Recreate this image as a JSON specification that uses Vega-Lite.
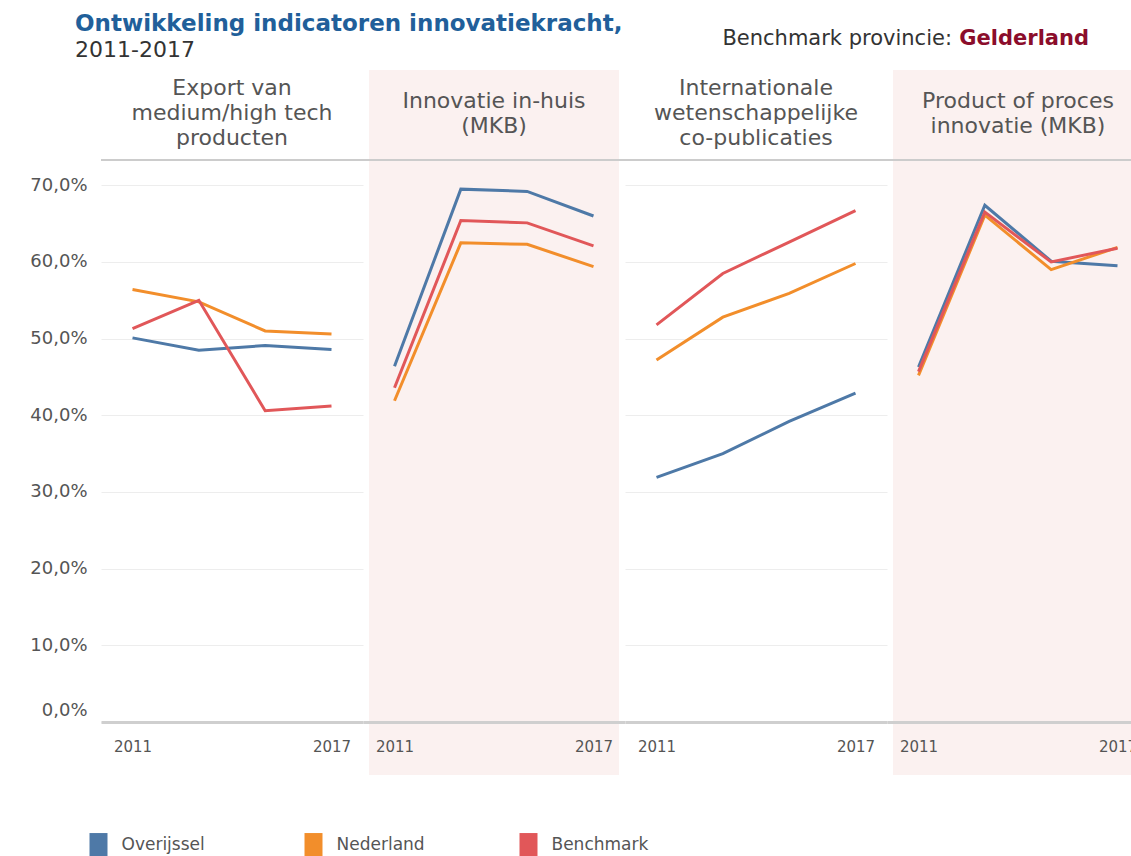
{
  "$schema": "https://vega.github.io/schema/vega-lite/v6.json",
  "padding": {"left": 29, "top": 13, "right": 0, "bottom": 0},
  "background": "white",
  "title": {
    "text": "Ontwikkeling indicatoren innovatiekracht,",
    "subtitle": "2011-2017",
    "anchor": "start",
    "frame": "group",
    "dx": -26,
    "offset": -33,
    "font": "DejaVu Sans",
    "fontSize": 23,
    "fontWeight": "bold",
    "color": "#215f9a",
    "subtitleFont": "DejaVu Sans",
    "subtitleFontSize": 22,
    "subtitleColor": "#333333",
    "subtitlePadding": 4
  },
  "data": {
    "values": [
      {"indicator": "Export", "regio": "Overijssel", "jaar": 2011, "waarde": 0.501},
      {"indicator": "Export", "regio": "Overijssel", "jaar": 2013, "waarde": 0.485},
      {"indicator": "Export", "regio": "Overijssel", "jaar": 2015, "waarde": 0.491},
      {"indicator": "Export", "regio": "Overijssel", "jaar": 2017, "waarde": 0.486},
      {"indicator": "Export", "regio": "Nederland", "jaar": 2011, "waarde": 0.564},
      {"indicator": "Export", "regio": "Nederland", "jaar": 2013, "waarde": 0.548},
      {"indicator": "Export", "regio": "Nederland", "jaar": 2015, "waarde": 0.510},
      {"indicator": "Export", "regio": "Nederland", "jaar": 2017, "waarde": 0.506},
      {"indicator": "Export", "regio": "Benchmark", "jaar": 2011, "waarde": 0.513},
      {"indicator": "Export", "regio": "Benchmark", "jaar": 2013, "waarde": 0.550},
      {"indicator": "Export", "regio": "Benchmark", "jaar": 2015, "waarde": 0.406},
      {"indicator": "Export", "regio": "Benchmark", "jaar": 2017, "waarde": 0.412},
      {"indicator": "Innovatie", "regio": "Overijssel", "jaar": 2011, "waarde": 0.464},
      {"indicator": "Innovatie", "regio": "Overijssel", "jaar": 2013, "waarde": 0.695},
      {"indicator": "Innovatie", "regio": "Overijssel", "jaar": 2015, "waarde": 0.692},
      {"indicator": "Innovatie", "regio": "Overijssel", "jaar": 2017, "waarde": 0.660},
      {"indicator": "Innovatie", "regio": "Nederland", "jaar": 2011, "waarde": 0.419},
      {"indicator": "Innovatie", "regio": "Nederland", "jaar": 2013, "waarde": 0.625},
      {"indicator": "Innovatie", "regio": "Nederland", "jaar": 2015, "waarde": 0.623},
      {"indicator": "Innovatie", "regio": "Nederland", "jaar": 2017, "waarde": 0.594},
      {"indicator": "Innovatie", "regio": "Benchmark", "jaar": 2011, "waarde": 0.436},
      {"indicator": "Innovatie", "regio": "Benchmark", "jaar": 2013, "waarde": 0.654},
      {"indicator": "Innovatie", "regio": "Benchmark", "jaar": 2015, "waarde": 0.651},
      {"indicator": "Innovatie", "regio": "Benchmark", "jaar": 2017, "waarde": 0.621},
      {"indicator": "Publicaties", "regio": "Overijssel", "jaar": 2011, "waarde": 0.319},
      {"indicator": "Publicaties", "regio": "Overijssel", "jaar": 2013, "waarde": 0.350},
      {"indicator": "Publicaties", "regio": "Overijssel", "jaar": 2015, "waarde": 0.392},
      {"indicator": "Publicaties", "regio": "Overijssel", "jaar": 2017, "waarde": 0.429},
      {"indicator": "Publicaties", "regio": "Nederland", "jaar": 2011, "waarde": 0.472},
      {"indicator": "Publicaties", "regio": "Nederland", "jaar": 2013, "waarde": 0.528},
      {"indicator": "Publicaties", "regio": "Nederland", "jaar": 2015, "waarde": 0.559},
      {"indicator": "Publicaties", "regio": "Nederland", "jaar": 2017, "waarde": 0.598},
      {"indicator": "Publicaties", "regio": "Benchmark", "jaar": 2011, "waarde": 0.518},
      {"indicator": "Publicaties", "regio": "Benchmark", "jaar": 2013, "waarde": 0.585},
      {"indicator": "Publicaties", "regio": "Benchmark", "jaar": 2015, "waarde": 0.626},
      {"indicator": "Publicaties", "regio": "Benchmark", "jaar": 2017, "waarde": 0.667},
      {"indicator": "Product", "regio": "Overijssel", "jaar": 2011, "waarde": 0.463},
      {"indicator": "Product", "regio": "Overijssel", "jaar": 2013, "waarde": 0.674},
      {"indicator": "Product", "regio": "Overijssel", "jaar": 2015, "waarde": 0.601},
      {"indicator": "Product", "regio": "Overijssel", "jaar": 2017, "waarde": 0.595},
      {"indicator": "Product", "regio": "Nederland", "jaar": 2011, "waarde": 0.452},
      {"indicator": "Product", "regio": "Nederland", "jaar": 2013, "waarde": 0.661},
      {"indicator": "Product", "regio": "Nederland", "jaar": 2015, "waarde": 0.590},
      {"indicator": "Product", "regio": "Nederland", "jaar": 2017, "waarde": 0.619},
      {"indicator": "Product", "regio": "Benchmark", "jaar": 2011, "waarde": 0.457},
      {"indicator": "Product", "regio": "Benchmark", "jaar": 2013, "waarde": 0.665},
      {"indicator": "Product", "regio": "Benchmark", "jaar": 2015, "waarde": 0.600},
      {"indicator": "Product", "regio": "Benchmark", "jaar": 2017, "waarde": 0.618}
    ]
  },
  "vconcat": [
    {
      "title": {
        "text": "Benchmark provincie:",
        "anchor": "end",
        "frame": "bounds",
        "dx": -198,
        "offset": -21,
        "font": "DejaVu Sans",
        "fontSize": 21,
        "fontWeight": "normal",
        "color": "#333333"
      },
      "vconcat": [
        {
          "title": {
            "text": "Gelderland",
            "anchor": "end",
            "frame": "bounds",
            "dx": -61,
            "offset": 21,
            "font": "DejaVu Sans",
            "fontSize": 21,
            "fontWeight": "bold",
            "color": "#8b0d2b"
          },
          "spacing": 0,
          "bounds": "flush",
          "hconcat": [
            {
              "width": 262,
              "height": 562,
              "title": {"text": ["Export van", "medium/high tech", "producten"], "anchor": "middle", "baseline": "middle", "offset": -90, "font": "DejaVu Sans", "fontSize": 22, "fontWeight": "normal", "color": "#555555", "lineHeight": 25},
              "transform": [{"filter": "datum.indicator === 'Export'"}],
              "layer": [
                {
                  "transform": [{"aggregate": [{"op": "count", "as": "n"}]}],
                  "mark": {"type": "rect", "color": "#ffffff", "opacity": 0},
                  "encoding": {"x": {"value": 6}, "x2": {"value": 256}, "y": {"value": -90}, "y2": {"value": 615}}
                },
                {
                  "transform": [{"aggregate": [{"op": "count", "as": "n"}]}],
                  "mark": {"type": "rule", "color": "#cccccc", "strokeWidth": 2},
                  "encoding": {"y": {"value": 0}}
                },
                {
                  "mark": {"type": "line", "strokeWidth": 3},
                  "encoding": {
                    "x": {"field": "jaar", "type": "quantitative", "scale": {"domain": [2010.05, 2017.95], "nice": false, "zero": false},
                      "axis": {"values": [2011, 2017], "format": "d", "labelFontSize": 15, "labelColor": "#555555", "domainColor": "#cfcfcf", "domainWidth": 3, "ticks": false, "grid": false, "labelPadding": 17, "title": null, "zindex": 1}},
                    "y": {"field": "waarde", "type": "quantitative", "scale": {"domain": [0, 0.733], "nice": false, "zero": false},
                      "axis": {"values": [0, 0.1, 0.2, 0.3, 0.4, 0.5, 0.6, 0.7], "labelExpr": "replace(format(datum.value, '.1%'), '.', ',')", "grid": true, "gridColor": "#ededed", "domain": false, "ticks": false, "labelFontSize": 18, "labelColor": "#555555", "labelPadding": 14, "title": null, "labelFlush": true, "labelFlushOffset": -3, "zindex": 0}},
                    "color": {"field": "regio", "type": "nominal", "scale": {"domain": ["Overijssel", "Nederland", "Benchmark"], "range": ["#4e79a7", "#f28e2b", "#e15759"]}, "legend": {"title": null, "encode": {"symbols": {"update": {"fill": {"scale": "color", "field": "value"}, "opacity": {"value": 1}}}}}}
                  }
                }
              ]
            },
            {
              "width": 262,
              "height": 562,
              "title": {"text": ["Innovatie in-huis", "(MKB)"], "anchor": "middle", "baseline": "middle", "offset": -78, "font": "DejaVu Sans", "fontSize": 22, "fontWeight": "normal", "color": "#555555", "lineHeight": 25},
              "transform": [{"filter": "datum.indicator === 'Innovatie'"}],
              "layer": [
                {
                  "transform": [{"aggregate": [{"op": "count", "as": "n"}]}],
                  "mark": {"type": "rect", "color": "#fbf1f0"},
                  "encoding": {"x": {"value": 6}, "x2": {"value": 256}, "y": {"value": -90}, "y2": {"value": 615}}
                },
                {
                  "transform": [{"aggregate": [{"op": "count", "as": "n"}]}],
                  "mark": {"type": "rule", "color": "#cccccc", "strokeWidth": 2},
                  "encoding": {"y": {"value": 0}}
                },
                {
                  "mark": {"type": "line", "strokeWidth": 3},
                  "encoding": {
                    "x": {"field": "jaar", "type": "quantitative", "scale": {"domain": [2010.05, 2017.95], "nice": false, "zero": false},
                      "axis": {"values": [2011, 2017], "format": "d", "labelFontSize": 15, "labelColor": "#555555", "domainColor": "#cfcfcf", "domainWidth": 3, "ticks": false, "grid": false, "labelPadding": 17, "title": null, "zindex": 1}},
                    "y": {"field": "waarde", "type": "quantitative", "scale": {"domain": [0, 0.733], "nice": false, "zero": false}, "axis": null},
                    "color": {"field": "regio", "type": "nominal", "scale": {"domain": ["Overijssel", "Nederland", "Benchmark"], "range": ["#4e79a7", "#f28e2b", "#e15759"]}, "legend": {"title": null, "encode": {"symbols": {"update": {"fill": {"scale": "color", "field": "value"}, "opacity": {"value": 1}}}}}}
                  }
                }
              ]
            },
            {
              "width": 262,
              "height": 562,
              "title": {"text": ["Internationale", "wetenschappelijke", "co-publicaties"], "anchor": "middle", "baseline": "middle", "offset": -90, "font": "DejaVu Sans", "fontSize": 22, "fontWeight": "normal", "color": "#555555", "lineHeight": 25},
              "transform": [{"filter": "datum.indicator === 'Publicaties'"}],
              "layer": [
                {
                  "transform": [{"aggregate": [{"op": "count", "as": "n"}]}],
                  "mark": {"type": "rect", "color": "#ffffff", "opacity": 0},
                  "encoding": {"x": {"value": 6}, "x2": {"value": 256}, "y": {"value": -90}, "y2": {"value": 615}}
                },
                {
                  "transform": [{"aggregate": [{"op": "count", "as": "n"}]}],
                  "mark": {"type": "rule", "color": "#cccccc", "strokeWidth": 2},
                  "encoding": {"y": {"value": 0}}
                },
                {
                  "mark": {"type": "line", "strokeWidth": 3},
                  "encoding": {
                    "x": {"field": "jaar", "type": "quantitative", "scale": {"domain": [2010.05, 2017.95], "nice": false, "zero": false},
                      "axis": {"values": [2011, 2017], "format": "d", "labelFontSize": 15, "labelColor": "#555555", "domainColor": "#cfcfcf", "domainWidth": 3, "ticks": false, "grid": false, "labelPadding": 17, "title": null, "zindex": 1}},
                    "y": {"field": "waarde", "type": "quantitative", "scale": {"domain": [0, 0.733], "nice": false, "zero": false},
                      "axis": {"values": [0, 0.1, 0.2, 0.3, 0.4, 0.5, 0.6, 0.7], "labels": false, "grid": true, "gridColor": "#ededed", "domain": false, "ticks": false, "title": null, "zindex": 0}},
                    "color": {"field": "regio", "type": "nominal", "scale": {"domain": ["Overijssel", "Nederland", "Benchmark"], "range": ["#4e79a7", "#f28e2b", "#e15759"]}, "legend": {"title": null, "encode": {"symbols": {"update": {"fill": {"scale": "color", "field": "value"}, "opacity": {"value": 1}}}}}}
                  }
                }
              ]
            },
            {
              "width": 262,
              "height": 562,
              "title": {"text": ["Product of proces", "innovatie (MKB)"], "anchor": "middle", "baseline": "middle", "offset": -78, "font": "DejaVu Sans", "fontSize": 22, "fontWeight": "normal", "color": "#555555", "lineHeight": 25},
              "transform": [{"filter": "datum.indicator === 'Product'"}],
              "layer": [
                {
                  "transform": [{"aggregate": [{"op": "count", "as": "n"}]}],
                  "mark": {"type": "rect", "color": "#fbf1f0"},
                  "encoding": {"x": {"value": 6}, "x2": {"value": 256}, "y": {"value": -90}, "y2": {"value": 615}}
                },
                {
                  "transform": [{"aggregate": [{"op": "count", "as": "n"}]}],
                  "mark": {"type": "rule", "color": "#cccccc", "strokeWidth": 2},
                  "encoding": {"y": {"value": 0}}
                },
                {
                  "mark": {"type": "line", "strokeWidth": 3},
                  "encoding": {
                    "x": {"field": "jaar", "type": "quantitative", "scale": {"domain": [2010.05, 2017.95], "nice": false, "zero": false},
                      "axis": {"values": [2011, 2017], "format": "d", "labelFontSize": 15, "labelColor": "#555555", "domainColor": "#cfcfcf", "domainWidth": 3, "ticks": false, "grid": false, "labelPadding": 17, "title": null, "zindex": 1}},
                    "y": {"field": "waarde", "type": "quantitative", "scale": {"domain": [0, 0.733], "nice": false, "zero": false}, "axis": null},
                    "color": {"field": "regio", "type": "nominal", "scale": {"domain": ["Overijssel", "Nederland", "Benchmark"], "range": ["#4e79a7", "#f28e2b", "#e15759"]}, "legend": {"title": null, "encode": {"symbols": {"update": {"fill": {"scale": "color", "field": "value"}, "opacity": {"value": 1}}}}}}
                  }
                }
              ]
            }
          ]
        }
      ]
    }
  ],
  "resolve": {"scale": {"color": "shared"}, "legend": {"color": "shared"}},
  "config": {
    "font": "DejaVu Sans",
    "view": {"stroke": null},
    "axis": {"labelFont": "DejaVu Sans"},
    "legend": {
      "orient": "none",
      "legendX": -11.5,
      "legendY": 676,
      "direction": "horizontal",
      "columns": 3,
      "gridAlign": "all",
      "columnPadding": 86,
      "symbolType": "M-1,-1.33H1V1.33H-1Z",
      "symbolSize": 324,
      "symbolStrokeWidth": 0,
      "labelFont": "DejaVu Sans",
      "labelFontSize": 17,
      "labelColor": "#555555",
      "labelOffset": 14,
      "padding": 0
    }
  }
}
